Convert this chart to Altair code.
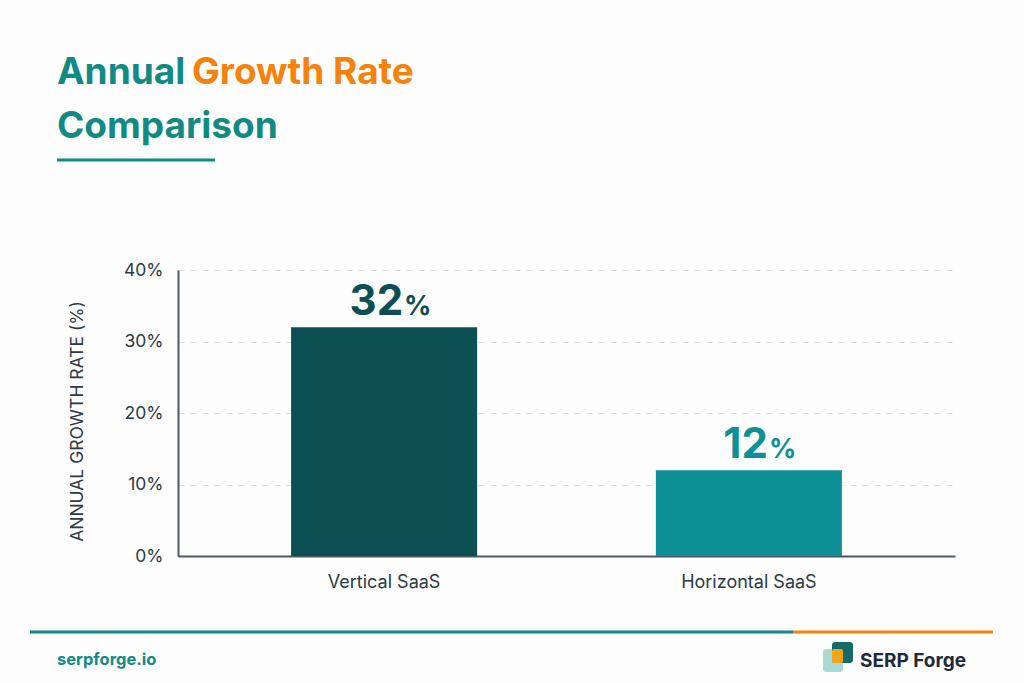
import altair as alt
import pandas as pd

# Chart values
categories = ["Vertical SaaS", "Horizontal SaaS"]
growth_rates = [32, 12]
bar_colors = ["#0b4f52", "#0e9196"]
y_ticks = [0, 10, 20, 30, 40]

TEAL = "#128a84"
ORANGE = "#f5820a"
DARK = "#2c3a44"
FONT = "Inter"

df = pd.DataFrame({
    "category": categories,
    "rate": growth_rates,
    "color": bar_colors,
    "num": [str(v) for v in growth_rates],
})

W, H = 777, 286
PAD = {"left": 178, "top": 270, "right": 69, "bottom": 127}

x_enc = alt.X(
    "category:N",
    sort=categories,
    scale=alt.Scale(paddingInner=0.49, paddingOuter=0.31),
    axis=alt.Axis(
        title=None, labelAngle=0, labelFont=FONT, labelFontSize=18,
        labelColor=DARK, labelPadding=17, ticks=False,
        domainColor="#4d5862", domainWidth=2,
    ),
)
y_enc = alt.Y(
    "rate:Q",
    scale=alt.Scale(domain=[0, 40]),
    axis=alt.Axis(
        values=y_ticks, labelExpr="datum.value + '%'", labelFont=FONT,
        labelFontSize=17.5, labelColor=DARK, labelPadding=15, ticks=False,
        domainColor="#4d5862", domainWidth=2,
        grid=True, gridColor="#d9dde0", gridDash=[6, 6], gridWidth=1,
        title="ANNUAL GROWTH RATE (%)", titleFont=FONT, titleFontSize=17.5,
        titleFontWeight="normal", titleColor=DARK, titleX=-101, titleY=151,
        titleAngle=-90, titleAlign="center", titleBaseline="middle",
    ),
)

base = alt.Chart(df)

bars = base.mark_bar().encode(
    x=x_enc, y=y_enc, color=alt.Color("color:N", scale=None)
)

value_num = base.mark_text(
    font=FONT, fontSize=42, fontWeight="bold", align="right",
    baseline="alphabetic", dx=19, dy=-12,
).encode(
    x=alt.X("category:N", sort=categories),
    y="rate:Q",
    text="num:N",
    color=alt.Color("color:N", scale=None),
)

value_pct = base.mark_text(
    font=FONT, fontSize=27, fontWeight="bold", align="left",
    baseline="alphabetic", dx=20, dy=-12,
).encode(
    x=alt.X("category:N", sort=categories),
    y="rate:Q",
    text=alt.value("%"),
    color=alt.Color("color:N", scale=None),
)

# Heading and decorations drawn in the padding area
def label(text, x, y, size, color, weight="bold"):
    return alt.Chart(pd.DataFrame({"t": [text]})).mark_text(
        font=FONT, fontSize=size, fontWeight=weight, align="left",
        baseline="alphabetic", color=color,
    ).encode(x=alt.value(x), y=alt.value(y), text="t:N")

def rule(x1, x2, y, color, width):
    return alt.Chart(pd.DataFrame({"a": [0]})).mark_rule(
        color=color, strokeWidth=width
    ).encode(x=alt.value(x1), x2=alt.value(x2), y=alt.value(y))

def box(x1, x2, y1, y2, color, radius=3):
    return alt.Chart(pd.DataFrame({"a": [0]})).mark_rect(
        color=color, cornerRadius=radius
    ).encode(x=alt.value(x1), x2=alt.value(x2), y=alt.value(y1), y2=alt.value(y2))

ox, oy = PAD["left"], PAD["top"]

title1a = label("Annual", 57 - ox, 84 - oy, 37, TEAL)
title1b = label("Growth Rate", 192 - ox, 84 - oy, 37, ORANGE)
title2 = label("Comparison", 57 - ox, 138 - oy, 37, TEAL)
underline = rule(57 - ox, 215 - ox, 160 - oy, TEAL, 3)

footer_teal = rule(30 - ox, 793 - ox, 632 - oy, TEAL, 3)
footer_orange = rule(793 - ox, 993 - ox, 632 - oy, ORANGE, 3)
site = label("serpforge.io", 57 - ox, 665 - oy, 16.5, TEAL)
brand = label("SERP Forge", 860 - ox, 667 - oy, 19, "#1d2b3a")

logo_light = box(823 - ox, 843 - ox, 649 - oy, 672 - oy, "#a9d9d6")
logo_dark = box(832 - ox, 853 - ox, 642 - oy, 663 - oy, "#136b6b")
logo_mid = box(832 - ox, 843 - ox, 649 - oy, 663 - oy, "#f5a31a", 2)

chart = alt.layer(
    bars, value_num, value_pct,
    title1a, title1b, title2, underline,
    footer_teal, footer_orange, site, brand,
    logo_light, logo_dark, logo_mid,
).properties(
    width=W, height=H, padding=PAD, autosize=alt.AutoSizeParams(type="none"),
    background="#fdfdfd",
).configure_view(stroke=None)

chart.save("out.html", embed_options={"renderer": "svg", "actions": False})
